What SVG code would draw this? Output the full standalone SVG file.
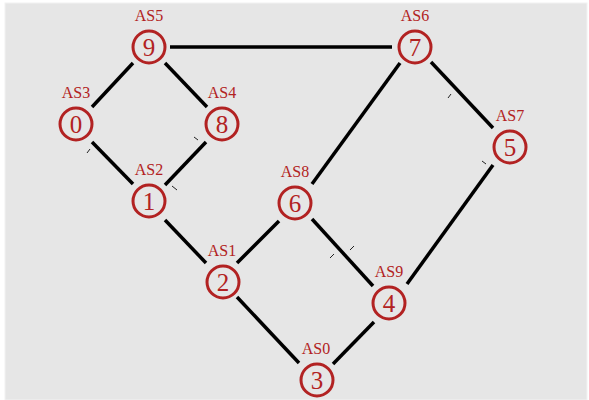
<svg xmlns="http://www.w3.org/2000/svg" width="589" height="400" viewBox="0 0 589 400">
<style>
.bg{fill:#e6e6e6;stroke:#f2f2f2;stroke-width:1}
.n circle{fill:none;stroke:#b22222;stroke-width:3}
.n text{fill:#b22222;font-family:'Liberation Serif','Times New Roman',Times,serif;text-anchor:middle}
.d{font-size:25px}
.l{font-size:16px}
#edges line{stroke:#000;stroke-width:3.5;stroke-linecap:butt}
#edges line.t{stroke-width:1;stroke:#222}
</style>
<rect class="bg" x="5" y="3" width="582" height="397"/>
<g id="edges">
<line x1="170" y1="47" x2="392" y2="47"/>
<line x1="133" y1="63" x2="92" y2="107"/>
<line x1="165" y1="63" x2="207" y2="107"/>
<line x1="92" y1="142" x2="133" y2="184"/>
<line x1="206" y1="142" x2="165" y2="185"/>
<line x1="400" y1="63" x2="312" y2="184"/>
<line x1="431" y1="62" x2="493" y2="128"/>
<line x1="493" y1="165" x2="407" y2="284"/>
<line x1="165" y1="220" x2="206" y2="263"/>
<line x1="237" y1="263" x2="279" y2="221"/>
<line x1="312" y1="219" x2="373" y2="286"/>
<line x1="237" y1="297" x2="299" y2="363"/>
<line x1="374" y1="322" x2="333" y2="364"/>
<line class="t" x1="87" y1="153" x2="90" y2="149"/>
<line class="t" x1="194" y1="137" x2="198" y2="140"/>
<line class="t" x1="172" y1="186" x2="177" y2="190"/>
<line class="t" x1="448" y1="98" x2="451" y2="94"/>
<line class="t" x1="482" y1="161" x2="486" y2="164"/>
<line class="t" x1="330" y1="258" x2="334" y2="254"/>
<line class="t" x1="350" y1="250" x2="354" y2="246"/>
</g>
<g id="n9" class="n"><circle cx="149" cy="47" r="16"/><text class="d" x="149" y="56">9</text><text class="l" x="149" y="21">AS5</text></g>
<g id="n0" class="n"><circle cx="76" cy="124" r="16"/><text class="d" x="76" y="133">0</text><text class="l" x="76" y="98">AS3</text></g>
<g id="n8" class="n"><circle cx="222" cy="124" r="16"/><text class="d" x="222" y="133">8</text><text class="l" x="222" y="98">AS4</text></g>
<g id="n1" class="n"><circle cx="149" cy="201" r="16"/><text class="d" x="149" y="210">1</text><text class="l" x="149" y="175">AS2</text></g>
<g id="n7" class="n"><circle cx="415" cy="47" r="16"/><text class="d" x="415" y="56">7</text><text class="l" x="415" y="21">AS6</text></g>
<g id="n5" class="n"><circle cx="510" cy="147" r="16"/><text class="d" x="510" y="156">5</text><text class="l" x="510" y="121">AS7</text></g>
<g id="n6" class="n"><circle cx="295" cy="203" r="16"/><text class="d" x="295" y="212">6</text><text class="l" x="295" y="177">AS8</text></g>
<g id="n2" class="n"><circle cx="223" cy="282" r="16"/><text class="d" x="223" y="291">2</text><text class="l" x="222" y="256">AS1</text></g>
<g id="n4" class="n"><circle cx="389" cy="303" r="16"/><text class="d" x="389" y="312">4</text><text class="l" x="389" y="277">AS9</text></g>
<g id="n3" class="n"><circle cx="317" cy="380" r="16"/><text class="d" x="317" y="389">3</text><text class="l" x="316" y="354">AS0</text></g>
</svg>
